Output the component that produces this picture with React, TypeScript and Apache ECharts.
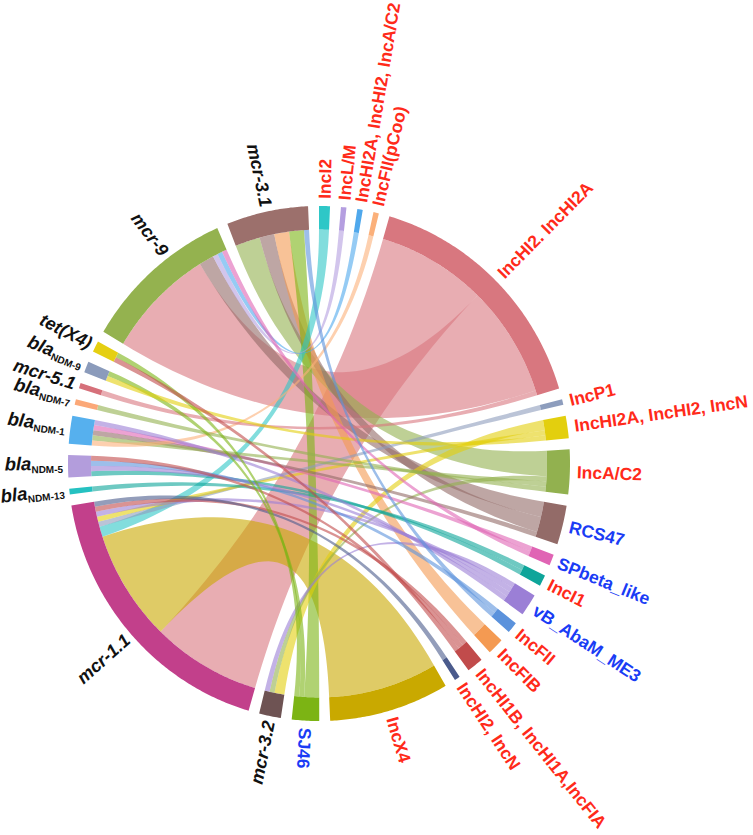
import React, { useEffect, useRef } from 'react';
import * as echarts from 'echarts';

// ---------- data ----------
const genes = ['mcr-3.2', 'mcr-1.1', 'blaNDM-13', 'blaNDM-5', 'blaNDM-1', 'blaNDM-7', 'mcr-5.1', 'blaNDM-9', 'tet(X4)', 'mcr-9', 'mcr-3.1'];
const geneColors = ['#6e5353', '#c2408b', '#25c1c1', '#b39ddc', '#56b0ee', '#fba878', '#d6707a', '#8b9bbb', '#e5cf12', '#94b24f', '#9c706c'];

const plasmids = ['IncI2', 'IncL/M', 'IncHI2A, IncHI2, IncA/C2', 'IncFII(pCoo)', 'IncHI2. IncHI2A', 'IncP1', 'IncHI2A, IncHI2, IncN', 'IncA/C2', 'RCS47', 'SPbeta_like', 'IncI1', 'vB_AbaM_ME3', 'IncFII', 'IncFIB', 'IncHI1B, IncHI1A,IncFIA', 'IncHI2, IncN', 'IncX4', 'SJ46'];
const plasmidColors = ['#2ec7c7', '#b49ee0', '#4fa8ec', '#fbb07a', '#d8777f', '#8d9dbd', '#e3cf0e', '#92b14f', '#936b68', '#e064b4', '#0ea59a', '#9b7fd6', '#5b92dc', '#f49a52', '#c14b4b', '#4b5b8c', '#c9a900', '#7cb414'];
const phageTypes = ['RCS47', 'SPbeta_like', 'vB_AbaM_ME3', 'SJ46'];

const links: [string, string, number][] = [
  ['mcr-3.2', 'IncHI2A, IncHI2, IncN', 2], ['mcr-3.2', 'IncA/C2', 1], ['mcr-3.2', 'vB_AbaM_ME3', 1],
  ['mcr-1.1', 'IncHI2. IncHI2A', 22], ['mcr-1.1', 'IncX4', 22], ['mcr-1.1', 'IncI2', 2], ['mcr-1.1', 'IncP1', 1],
  ['mcr-1.1', 'IncHI2A, IncHI2, IncN', 1], ['mcr-1.1', 'vB_AbaM_ME3', 1], ['mcr-1.1', 'IncHI1B, IncHI1A,IncFIA', 1], ['mcr-1.1', 'IncHI2, IncN', 1],
  ['blaNDM-13', 'IncI1', 1],
  ['blaNDM-5', 'IncFII', 1], ['blaNDM-5', 'IncI1', 1], ['blaNDM-5', 'vB_AbaM_ME3', 1], ['blaNDM-5', 'IncHI1B, IncHI1A,IncFIA', 1],
  ['blaNDM-1', 'SPbeta_like', 1], ['blaNDM-1', 'RCS47', 1], ['blaNDM-1', 'IncA/C2', 1], ['blaNDM-1', 'IncFII(pCoo)', 1], ['blaNDM-1', 'vB_AbaM_ME3', 1],
  ['blaNDM-7', 'IncA/C2', 1],
  ['mcr-5.1', 'IncHI2. IncHI2A', 1],
  ['blaNDM-9', 'SJ46', 1], ['blaNDM-9', 'IncHI2A, IncHI2, IncN', 1],
  ['tet(X4)', 'SJ46', 1], ['tet(X4)', 'IncHI1B, IncHI1A,IncFIA', 1],
  ['mcr-9', 'IncHI2. IncHI2A', 22], ['mcr-9', 'RCS47', 3], ['mcr-9', 'IncL/M', 1], ['mcr-9', 'IncHI2A, IncHI2, IncA/C2', 1], ['mcr-9', 'SPbeta_like', 1],
  ['mcr-3.1', 'IncA/C2', 5], ['mcr-3.1', 'RCS47', 3], ['mcr-3.1', 'IncFIB', 3], ['mcr-3.1', 'SJ46', 3], ['mcr-3.1', 'IncFII', 1],
];

// ---------- layout constants ----------
const W = 753, H = 835;
const CX = 319, CY = 463.5, KY = 1.026;
const R_OUT = 251, R_IN = 228, R_LABEL = 258, R_LABEL_GENE = 256;
const GAP = 2.5;
const LINK_ALPHA = 0.6;
const FONT = 'Liberation Sans, Arial, Helvetica, sans-serif';
const labelShift: Record<string, number> = { 'mcr-9': 4.5 };

function rgba(hex: string, a: number) {
  const n = parseInt(hex.slice(1), 16);
  return `rgba(${(n >> 16) & 255},${(n >> 8) & 255},${n & 255},${a})`;
}

type Node = { name: string; kind: 'gene' | 'plasmid'; color: string; total: number; start: number; end: number };
type Link = { g: number; p: number; v: number; a1: number; a2: number; b1: number; b2: number };

function buildLayout() {
  const L: Link[] = links.map(([g, p, v]) => ({ g: genes.indexOf(g), p: plasmids.indexOf(p), v, a1: 0, a2: 0, b1: 0, b2: 0 }));
  const geneTot = genes.map((_, i) => L.filter(l => l.g === i).reduce((s, l) => s + l.v, 0));
  const plasTot = plasmids.map((_, j) => L.filter(l => l.p === j).reduce((s, l) => s + l.v, 0));
  const total = geneTot.reduce((a, b) => a + b, 0) + plasTot.reduce((a, b) => a + b, 0);
  const count = genes.length + plasmids.length;
  const unit = (360 - GAP * count) / total;
  const geneSpan = geneTot.reduce((a, b) => a + b, 0) * unit + genes.length * GAP;
  let a = 360 - geneSpan;
  const nodes: Node[] = [];
  genes.forEach((name, i) => {
    const start = a, end = a + geneTot[i] * unit;
    nodes.push({ name, kind: 'gene', color: geneColors[i], total: geneTot[i], start, end });
    let c = start;
    L.filter(l => l.g === i).sort((x, y) => y.v - x.v || x.p - y.p).forEach(l => {
      l.a1 = c; c += l.v * unit; l.a2 = c;
    });
    a = end + GAP;
  });
  plasmids.forEach((name, j) => {
    const start = a, end = a + plasTot[j] * unit;
    nodes.push({ name, kind: 'plasmid', color: plasmidColors[j], total: plasTot[j], start, end });
    let c = start;
    L.filter(l => l.p === j).sort((x, y) => y.v - x.v || x.g - y.g).forEach(l => {
      l.b1 = c; c += l.v * unit; l.b2 = c;
    });
    a = end + GAP;
  });
  return { nodes, L };
}

export default function App() {
  const ref = useRef<HTMLDivElement>(null);
  useEffect(() => {
    if (!ref.current) return;
    const chart = echarts.init(ref.current, null, { renderer: 'svg' });
    const { nodes, L } = buildLayout();

    const renderItem = (_params: any, api: any) => {
      const pt = (r: number, ang: number): number[] => {
        const aa = ((ang % 360) + 360) % 360;
        const p = api.coord([r, aa]);
        return [p[0], CY + (p[1] - CY) * KY];
      };
      const arc = (r: number, a0: number, a1: number) => {
        const n = Math.max(2, Math.ceil(Math.abs(a1 - a0) / 0.5) + 1);
        const pts: number[][] = [];
        for (let i = 0; i < n; i++) pts.push(pt(r, a0 + ((a1 - a0) * i) / (n - 1)));
        return pts;
      };
      const c = pt(0, 0);
      const quad = (p0: number[], p1: number[]) => {
        const pts: number[][] = [];
        const steps = 40;
        for (let i = 1; i < steps; i++) {
          const t = i / steps, u = 1 - t;
          pts.push([u * u * p0[0] + 2 * u * t * c[0] + t * t * p1[0], u * u * p0[1] + 2 * u * t * c[1] + t * t * p1[1]]);
        }
        return pts;
      };
      const children: any[] = [];
      const sorted = [...L].sort((x, y) => y.v - x.v);
      sorted.forEach(l => {
        const A = arc(R_IN, l.a1, l.a2);
        const B = arc(R_IN, l.b1, l.b2);
        const pts = [...A, ...quad(A[A.length - 1], B[0]), ...B, ...quad(B[B.length - 1], A[0])];
        children.push({ type: 'polygon', shape: { points: pts }, style: { fill: rgba(plasmidColors[l.p], LINK_ALPHA) } });
      });
      nodes.forEach(n => {
        const outer = arc(R_OUT, n.start, n.end);
        const inner = arc(R_IN, n.end, n.start);
        children.push({ type: 'polygon', shape: { points: [...outer, ...inner] }, style: { fill: n.color } });
      });
      nodes.forEach(n => {
        const mid = (n.start + n.end) / 2 + (labelShift[n.name] || 0);
        if (n.kind === 'plasmid') {
          const p = pt(R_LABEL, mid);
          children.push({
            type: 'text', x: p[0], y: p[1], rotation: ((90 - mid) * Math.PI) / 180,
            style: {
              text: n.name, fill: phageTypes.includes(n.name) ? '#1a3cf5' : '#ff2a1a',
              fontSize: 17.5, fontWeight: 'bold', fontFamily: FONT, align: 'left', verticalAlign: 'middle',
            },
          });
        } else {
          const p = pt(R_LABEL_GENE, mid);
          const isBla = n.name.startsWith('bla');
          children.push({
            type: 'text', x: p[0], y: p[1], rotation: ((270 - mid) * Math.PI) / 180,
            style: isBla
              ? {
                  text: `{i|bla}{s|${n.name.slice(3)}}`, align: 'right', verticalAlign: 'middle', y: -3,
                  rich: {
                    i: { fontSize: 18.5, fontStyle: 'italic', fontWeight: 'bold', fontFamily: FONT, fill: '#111', lineHeight: 22 },
                    s: { fontSize: 10, fontWeight: 'bold', fontFamily: FONT, fill: '#111', lineHeight: 10, verticalAlign: 'bottom' },
                  },
                }
              : {
                  text: n.name, fill: '#111', fontSize: 18, fontStyle: 'italic', fontWeight: 'bold', fontFamily: FONT,
                  align: 'right', verticalAlign: 'middle',
                },
          });
        }
      });
      return { type: 'group', children };
    };

    chart.setOption({
      animation: false,
      backgroundColor: '#ffffff',
      polar: { center: [CX, CY], radius: R_OUT },
      angleAxis: { type: 'value', min: 0, max: 360, startAngle: 90, clockwise: true, show: false },
      radiusAxis: { type: 'value', min: 0, max: R_OUT, show: false },
      series: [
        { type: 'custom', coordinateSystem: 'polar', silent: true, data: [[0, 0]], renderItem },
      ],
    });
    return () => chart.dispose();
  }, []);
  return <div ref={ref} style={{ position: 'fixed', left: 0, top: 0, width: W, height: H, background: '#fff' }} />;
}
